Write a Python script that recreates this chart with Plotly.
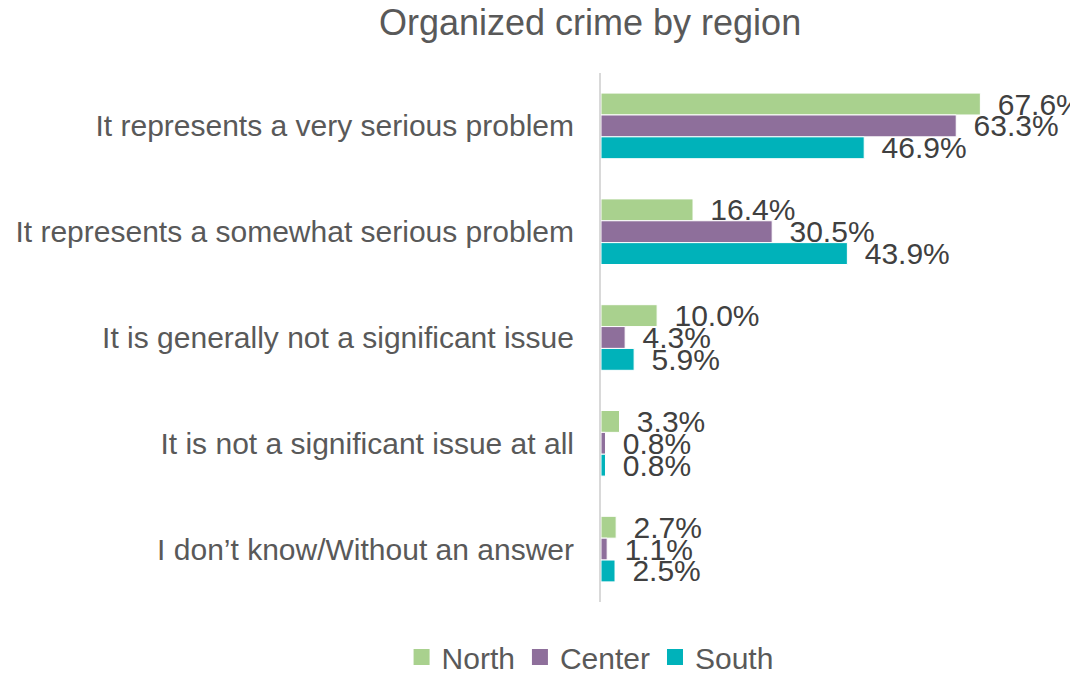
import plotly.graph_objects as go

categories = [
    "It represents a very serious problem",
    "It represents a somewhat serious problem",
    "It is generally not a significant issue",
    "It is not a significant issue at all",
    "I don\u2019t know/Without an answer",
]
north = [67.6, 16.4, 10.0, 3.3, 2.7]
center = [63.3, 30.5, 4.3, 0.8, 1.1]
south = [46.9, 43.9, 5.9, 0.8, 2.5]
series = [("North", north, "#A9D18E"), ("Center", center, "#8E6F9B"), ("South", south, "#00B2BA")]

FONT = "Liberation Sans, Arial, sans-serif"
fig = go.Figure()
for name, vals, color in series:
    fig.add_trace(go.Bar(
        y=categories, x=vals, name=name, orientation="h", showlegend=False,
        marker=dict(color=color, line=dict(color="white", width=1)),
        text=[" \u2009" + f"{v:.1f}%" for v in vals], textposition="outside",
        textfont=dict(size=30, color="#404040", family=FONT),
        constraintext="none", cliponaxis=False,
    ))
for name, vals, color in series:
    fig.add_trace(go.Scatter(
        x=[None], y=[None], mode="markers", name=name,
        marker=dict(symbol="square", size=17, color=color),
    ))

fig.update_layout(
    width=1070, height=665,
    barmode="group", bargap=0.38, bargroupgap=0,
    plot_bgcolor="white", paper_bgcolor="white",
    margin=dict(l=593, r=0, t=65, b=71, autoexpand=False),
    font=dict(family=FONT, color="#595959"),
    title=dict(text="Organized crime by region", x=0.544, xref="container", xanchor="center",
               y=0.979, yref="container", yanchor="middle",
               font=dict(size=36, color="#595959", family=FONT)),
    xaxis=dict(range=[0, 85], visible=False, showgrid=False),
    yaxis=dict(autorange="reversed", showline=True, linecolor="#D9D9D9", linewidth=2,
               ticks="", tickfont=dict(size=30, color="#595959"), ticklabelstandoff=19),
    legend=dict(orientation="h", xref="container", yref="container", x=0.544, y=0.024,
                xanchor="center", yanchor="middle", font=dict(size=30, color="#595959"),
                itemwidth=30),
)
fig.write_html("out.html")
